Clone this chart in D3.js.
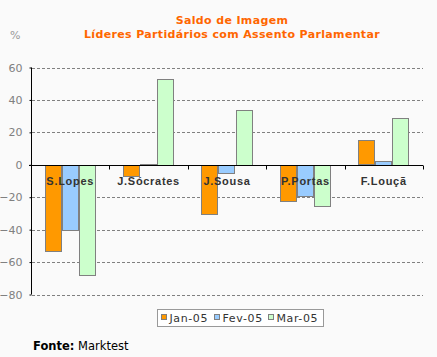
<!DOCTYPE html>
<html><head><meta charset="utf-8">
<script src="https://cdn.jsdelivr.net/npm/d3@7"></script>
<style>
html,body{margin:0;padding:0;background:#fafafa;}
svg{display:block;font-family:"DejaVu Sans",Verdana,sans-serif;}
</style></head>
<body>
<svg id="c" width="437" height="357"></svg>
<script>
const categories = ["S.Lopes","J.Sócrates","J.Sousa","P.Portas","F.Louçã"];
const seriesNames = ["Jan-05","Fev-05","Mar-05"];
const jan05 = [-53, -7, -30, -22, 15];
const fev05 = [-40, 0.5, -5, -19, 2.5];
const mar05 = [-68, 53, 34, -25, 29];
const yTicks = [60,40,20,0,-20,-40,-60,-80];
const colors = ["#ff9900","#99ccff","#ccffcc"];
const titleLines = ["Saldo de Imagem","Líderes Partidários com Assento Parlamentar"];

const series = [jan05, fev05, mar05];
const svg = d3.select("#c");
svg.append("rect").attr("width",437).attr("height",357).attr("fill","#fafafa");

const x0 = d3.scaleBand().domain(categories).range([31, 423]).paddingInner(0).paddingOuter(0);
const x1 = d3.scaleBand().domain(seriesNames).range([0, x0.bandwidth()]).paddingOuter(0.8).paddingInner(0);
const y = d3.scaleLinear().domain([-80, 60]).range([294.5, 67.5]);

// title
svg.selectAll("text.title").data(titleLines).enter().append("text")
  .attr("class","title").attr("x",232).attr("y",(d,i)=>24+i*14)
  .attr("text-anchor","middle").attr("font-size",11).attr("font-weight","bold")
  .attr("letter-spacing",0.35)
  .attr("fill","#ff6600").text(d=>d);

svg.append("text").attr("x",10).attr("y",39).attr("font-size",11).attr("fill","#999").text("%");

// grid
svg.append("g").selectAll("line").data(yTicks.filter(d=>d!==0)).enter().append("line")
  .attr("x1",32).attr("x2",423).attr("y1",d=>Math.round(y(d))+0.5).attr("y2",d=>Math.round(y(d))+0.5)
  .attr("stroke","#808080").attr("stroke-dasharray","3,2");

// bars
const g = svg.append("g");
series.forEach((vals, si) => {
  g.selectAll(null).data(vals).enter().append("rect")
    .attr("x",(d,i)=>Math.round(x0(categories[i]) + x1(seriesNames[si]))+0.5)
    .attr("width",Math.round(x1.bandwidth())-1)
    .attr("y",d=>Math.round(Math.min(y(d),y(0)))+0.5)
    .attr("height",d=>Math.max(0,Math.round(Math.abs(y(d)-y(0)))))
    .attr("fill",colors[si]).attr("stroke","#808080").attr("stroke-width",1);
});

// y axis
const yAxis = d3.axisLeft(y).tickValues(yTicks).tickSize(2).tickPadding(7);
const ya = svg.append("g").attr("transform","translate(31.5,0)").call(yAxis);
ya.select(".domain").attr("stroke","#000").attr("d","M0,67.5V294.5");
ya.selectAll(".tick line").attr("stroke","#000");
ya.selectAll(".tick text").attr("fill","#808080").attr("font-size",11).attr("font-family","DejaVu Sans");

// x axis at zero
const xAxis = d3.axisBottom(x0).tickSize(0).tickFormat("");
const xa = svg.append("g").attr("transform",`translate(0,${Math.round(y(0))+0.5})`).call(xAxis);
xa.select(".domain").attr("stroke","#000").attr("stroke-width",1.2).attr("d","M29,0H423");
xa.selectAll(".tick").remove();
xa.selectAll("line.sep").data(categories).enter().append("line").attr("class","sep")
  .attr("x1",d=>Math.round(x0(d)+x0.bandwidth())+0.5).attr("x2",d=>Math.round(x0(d)+x0.bandwidth())+0.5)
  .attr("y1",0).attr("y2",4).attr("stroke","#000");
xa.selectAll("text.cat").data(categories).enter().append("text").attr("class","cat")
  .attr("x",d=>x0(d)+x0.bandwidth()/2).attr("y",19)
  .attr("text-anchor","middle").attr("font-size",11).attr("font-weight","bold")
  .attr("letter-spacing",0.7).attr("fill","#333").text(d=>d);

// legend
const lg = svg.append("g");
lg.append("rect").attr("x",157.5).attr("y",309.5).attr("width",166).attr("height",17)
  .attr("fill","#fff").attr("stroke","#999");
const lx = [161.5, 214.5, 268.5];
seriesNames.forEach((n,i)=>{
  lg.append("rect").attr("x",lx[i]).attr("y",314.5).attr("width",5).attr("height",5)
    .attr("fill",colors[i]).attr("stroke","#808080");
  lg.append("text").attr("x",lx[i]+8).attr("y",322).attr("font-size",11)
    .attr("letter-spacing",0.6).attr("fill","#333").text(n);
});

// source
const src = svg.append("text").attr("x",33).attr("y",350).attr("font-size",11.5).attr("fill","#000");
src.append("tspan").attr("font-weight","bold").text("Fonte:");
src.append("tspan").text(" Marktest");
</script>
</body></html>
